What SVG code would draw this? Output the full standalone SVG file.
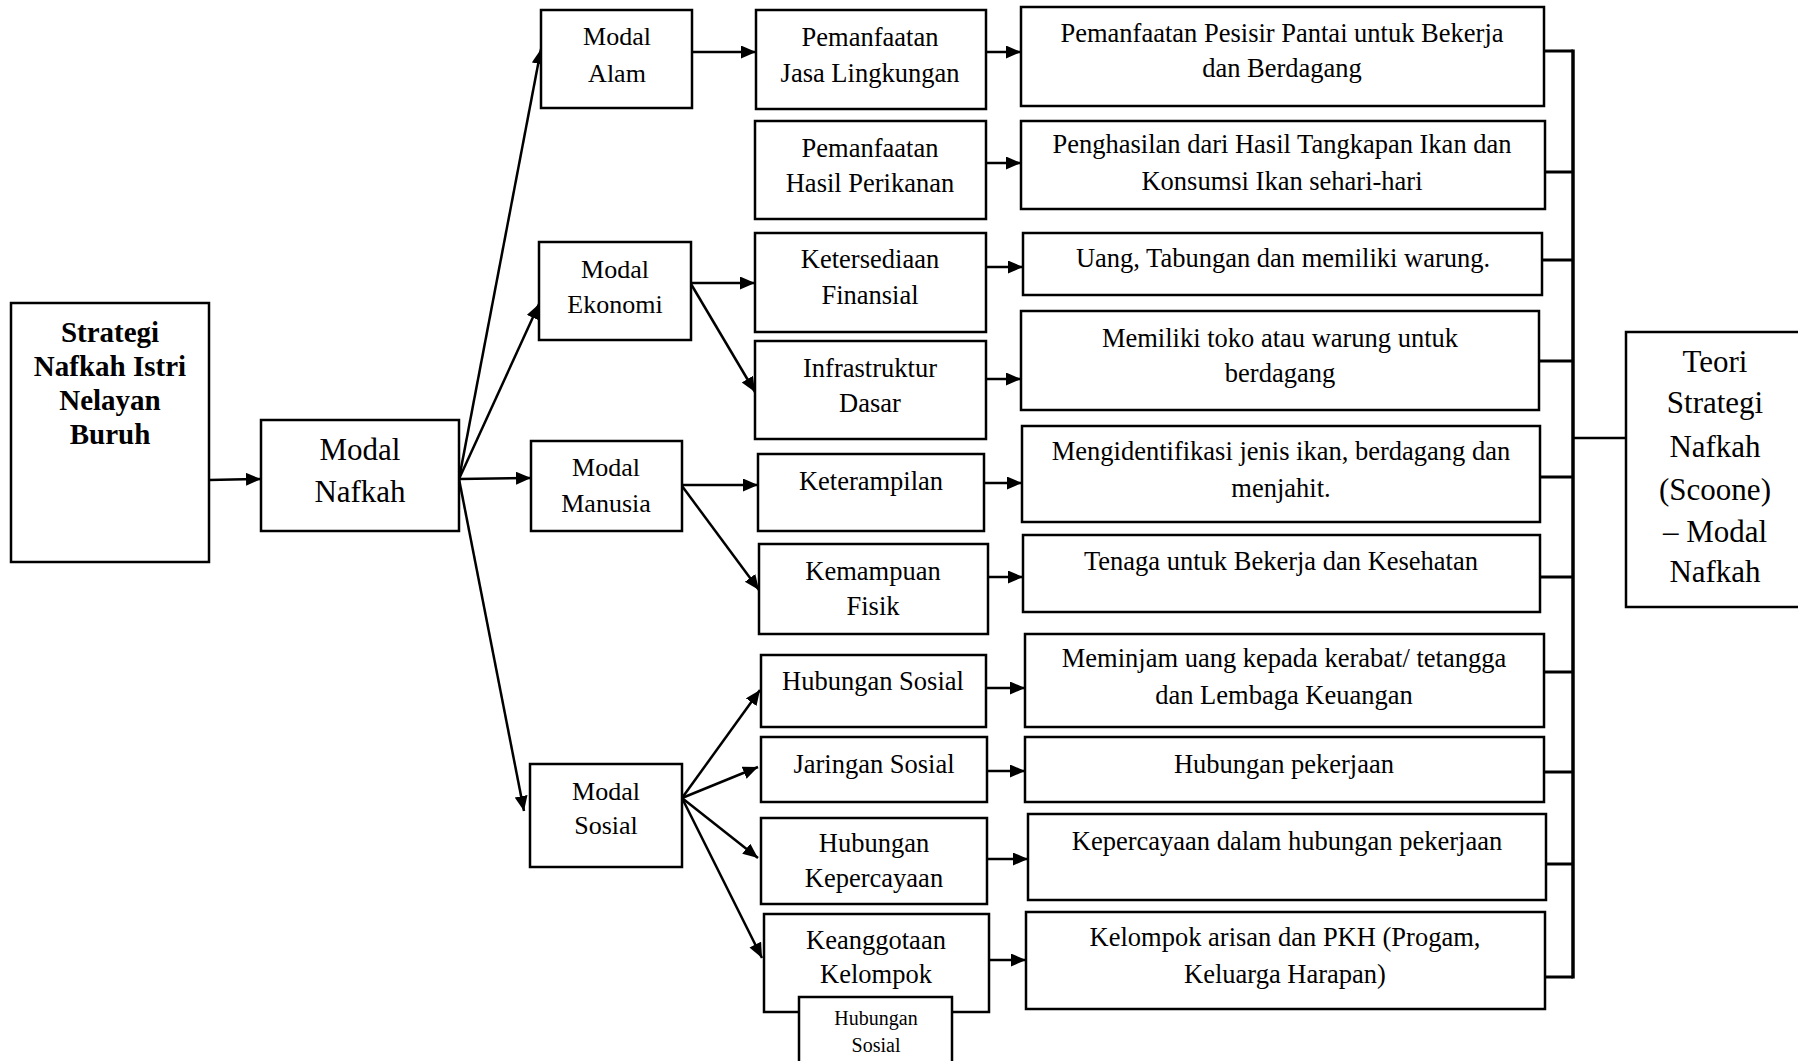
<svg xmlns="http://www.w3.org/2000/svg" width="1798" height="1061" viewBox="0 0 1798 1061">
<style>
.box{fill:#fff;stroke:#000;stroke-width:2.5}
.t{font-family:"Liberation Serif","Times New Roman",serif;font-size:26.5px;fill:#000;text-anchor:middle}
.m{font-size:26px}
.big{font-size:31px}
.b{font-size:29px;font-weight:bold}
.s{font-size:20px}
.ln{stroke:#000;stroke-width:2.5;fill:none}
.ar{stroke:#000;stroke-width:2.5;fill:none;marker-end:url(#ah)}
.bus{stroke:#000;stroke-width:3;fill:none}
</style>
<defs>
<marker id="ah" markerUnits="userSpaceOnUse" markerWidth="16" markerHeight="14" refX="15" refY="6.5" orient="auto">
<path d="M0,0 L15,6.5 L0,13 z" fill="#000"/>
</marker>
</defs>
<rect width="1798" height="1061" fill="#fff"/>

<g id="connectors">
<line class="ar" x1="209" y1="480" x2="261" y2="479"/>
<line class="ar" x1="459" y1="479" x2="541" y2="49"/>
<line class="ar" x1="459" y1="479" x2="539" y2="304"/>
<line class="ar" x1="459" y1="479" x2="531" y2="478"/>
<line class="ar" x1="459" y1="479" x2="524" y2="811"/>
<line class="ar" x1="692" y1="52" x2="756" y2="52"/>
<line class="ar" x1="986" y1="52" x2="1021" y2="52"/>
<line class="ar" x1="986" y1="163" x2="1021" y2="163"/>
<line class="ar" x1="691" y1="283" x2="755" y2="283"/>
<line class="ar" x1="691" y1="284" x2="755" y2="392"/>
<line class="ar" x1="986" y1="267" x2="1023" y2="267"/>
<line class="ar" x1="986" y1="379" x2="1021" y2="379"/>
<line class="ar" x1="682" y1="485" x2="758" y2="485"/>
<line class="ar" x1="682" y1="486" x2="759" y2="590"/>
<line class="ar" x1="984" y1="483" x2="1022" y2="483"/>
<line class="ar" x1="988" y1="577" x2="1023" y2="577"/>
<line class="ar" x1="682" y1="798" x2="760" y2="690"/>
<line class="ar" x1="682" y1="798" x2="758" y2="767"/>
<line class="ar" x1="682" y1="798" x2="758" y2="858"/>
<line class="ar" x1="682" y1="798" x2="762" y2="958"/>
<line class="ar" x1="986" y1="688" x2="1025" y2="688"/>
<line class="ar" x1="987" y1="771" x2="1025" y2="771"/>
<line class="ar" x1="987" y1="859" x2="1028" y2="859"/>
<line class="ar" x1="989" y1="960" x2="1026" y2="960"/>
<line class="bus" x1="1544" y1="51" x2="1573" y2="51"/>
<line class="bus" x1="1545" y1="172" x2="1573" y2="172"/>
<line class="bus" x1="1542" y1="260" x2="1573" y2="260"/>
<line class="bus" x1="1539" y1="361" x2="1573" y2="361"/>
<line class="bus" x1="1540" y1="477" x2="1573" y2="477"/>
<line class="bus" x1="1540" y1="577" x2="1573" y2="577"/>
<line class="bus" x1="1544" y1="672" x2="1573" y2="672"/>
<line class="bus" x1="1544" y1="772" x2="1573" y2="772"/>
<line class="bus" x1="1546" y1="864" x2="1573" y2="864"/>
<line class="bus" x1="1545" y1="977" x2="1573" y2="977"/>
<line class="bus" x1="1573" y1="49.5" x2="1573" y2="978.5" style="stroke-width:3.5"/>
<line class="ln" x1="1573" y1="438" x2="1626" y2="438"/>
</g>

<g id="n-strategi"><rect class="box" x="11" y="303" width="198" height="259"/>
<text class="t b" x="110"><tspan x="110" y="342">Strategi</tspan><tspan x="110" y="376">Nafkah Istri</tspan><tspan x="110" y="410">Nelayan</tspan><tspan x="110" y="444">Buruh</tspan></text></g>

<g id="n-modal-nafkah"><rect class="box" x="261" y="420" width="198" height="111"/>
<text class="t big"><tspan x="360" y="460">Modal</tspan><tspan x="360" y="502">Nafkah</tspan></text></g>

<g id="n-modal-alam"><rect class="box" x="541" y="10" width="151" height="98"/>
<text class="t m"><tspan x="617" y="45">Modal</tspan><tspan x="617" y="82">Alam</tspan></text></g>

<g id="n-modal-ekonomi"><rect class="box" x="539" y="242" width="152" height="98"/>
<text class="t m"><tspan x="615" y="278">Modal</tspan><tspan x="615" y="313">Ekonomi</tspan></text></g>

<g id="n-modal-manusia"><rect class="box" x="531" y="441" width="151" height="90"/>
<text class="t m"><tspan x="606" y="476">Modal</tspan><tspan x="606" y="512">Manusia</tspan></text></g>

<g id="n-modal-sosial"><rect class="box" x="530" y="764" width="152" height="103"/>
<text class="t m"><tspan x="606" y="800">Modal</tspan><tspan x="606" y="834">Sosial</tspan></text></g>

<g id="n-jasa"><rect class="box" x="756" y="10" width="230" height="99"/>
<text class="t"><tspan x="870" y="46">Pemanfaatan</tspan><tspan x="870" y="82">Jasa Lingkungan</tspan></text></g>

<g id="n-hasil"><rect class="box" x="755" y="121" width="231" height="98"/>
<text class="t"><tspan x="870" y="157">Pemanfaatan</tspan><tspan x="870" y="192">Hasil Perikanan</tspan></text></g>

<g id="n-ketersediaan"><rect class="box" x="755" y="233" width="231" height="99"/>
<text class="t"><tspan x="870" y="268">Ketersediaan</tspan><tspan x="870" y="304">Finansial</tspan></text></g>

<g id="n-infrastruktur"><rect class="box" x="755" y="341" width="231" height="98"/>
<text class="t"><tspan x="870" y="377">Infrastruktur</tspan><tspan x="870" y="412">Dasar</tspan></text></g>

<g id="n-keterampilan"><rect class="box" x="758" y="454" width="226" height="77"/>
<text class="t" x="871" y="490">Keterampilan</text></g>

<g id="n-kemampuan"><rect class="box" x="759" y="544" width="229" height="90"/>
<text class="t"><tspan x="873" y="580">Kemampuan</tspan><tspan x="873" y="615">Fisik</tspan></text></g>

<g id="n-hubungan-sosial"><rect class="box" x="761" y="655" width="225" height="72"/>
<text class="t" x="873" y="690">Hubungan Sosial</text></g>

<g id="n-jaringan"><rect class="box" x="761" y="737" width="226" height="65"/>
<text class="t" x="874" y="773">Jaringan Sosial</text></g>

<g id="n-kepercayaan"><rect class="box" x="761" y="818" width="226" height="86"/>
<text class="t"><tspan x="874" y="852">Hubungan</tspan><tspan x="874" y="887">Kepercayaan</tspan></text></g>

<g id="n-keanggotaan"><rect class="box" x="764" y="914" width="225" height="98"/>
<text class="t"><tspan x="876" y="949">Keanggotaan</tspan><tspan x="876" y="983">Kelompok</tspan></text></g>

<g id="n-hubungan-sosial-kecil"><rect class="box" x="799" y="997" width="153" height="80"/>
<text class="t s"><tspan x="876" y="1025">Hubungan</tspan><tspan x="876" y="1052">Sosial</tspan></text></g>

<g id="n-pesisir"><rect class="box" x="1021" y="7" width="523" height="99"/>
<text class="t"><tspan x="1282" y="42">Pemanfaatan Pesisir Pantai untuk Bekerja</tspan><tspan x="1282" y="77">dan Berdagang</tspan></text></g>

<g id="n-penghasilan"><rect class="box" x="1021" y="121" width="524" height="88"/>
<text class="t"><tspan x="1282" y="153">Penghasilan dari Hasil Tangkapan Ikan dan</tspan><tspan x="1282" y="190">Konsumsi Ikan sehari-hari</tspan></text></g>

<g id="n-uang"><rect class="box" x="1023" y="233" width="519" height="62"/>
<text class="t" x="1283" y="267">Uang, Tabungan dan memiliki warung.</text></g>

<g id="n-toko"><rect class="box" x="1021" y="311" width="518" height="99"/>
<text class="t"><tspan x="1280" y="347">Memiliki toko atau warung untuk</tspan><tspan x="1280" y="382">berdagang</tspan></text></g>

<g id="n-identifikasi"><rect class="box" x="1022" y="426" width="518" height="96"/>
<text class="t"><tspan x="1281" y="460">Mengidentifikasi jenis ikan, berdagang dan</tspan><tspan x="1281" y="497">menjahit.</tspan></text></g>

<g id="n-tenaga"><rect class="box" x="1023" y="535" width="517" height="77"/>
<text class="t" x="1281" y="570">Tenaga untuk Bekerja dan Kesehatan</text></g>

<g id="n-meminjam"><rect class="box" x="1025" y="634" width="519" height="93"/>
<text class="t"><tspan x="1284" y="667">Meminjam uang kepada kerabat/ tetangga</tspan><tspan x="1284" y="704">dan Lembaga Keuangan</tspan></text></g>

<g id="n-pekerjaan"><rect class="box" x="1025" y="737" width="519" height="65"/>
<text class="t" x="1284" y="773">Hubungan pekerjaan</text></g>

<g id="n-kepercayaan-kerja"><rect class="box" x="1028" y="814" width="518" height="86"/>
<text class="t" x="1287" y="850">Kepercayaan dalam hubungan pekerjaan</text></g>

<g id="n-arisan"><rect class="box" x="1026" y="912" width="519" height="97"/>
<text class="t"><tspan x="1285" y="946">Kelompok arisan dan PKH (Progam,</tspan><tspan x="1285" y="983">Keluarga Harapan)</tspan></text></g>

<g id="n-teori"><rect class="box" x="1626" y="332" width="180" height="275"/>
<text class="t big"><tspan x="1715" y="372">Teori</tspan><tspan x="1715" y="413">Strategi</tspan><tspan x="1715" y="457">Nafkah</tspan><tspan x="1715" y="500">(Scoone)</tspan><tspan x="1715" y="542">– Modal</tspan><tspan x="1715" y="582">Nafkah</tspan></text></g>
</svg>
